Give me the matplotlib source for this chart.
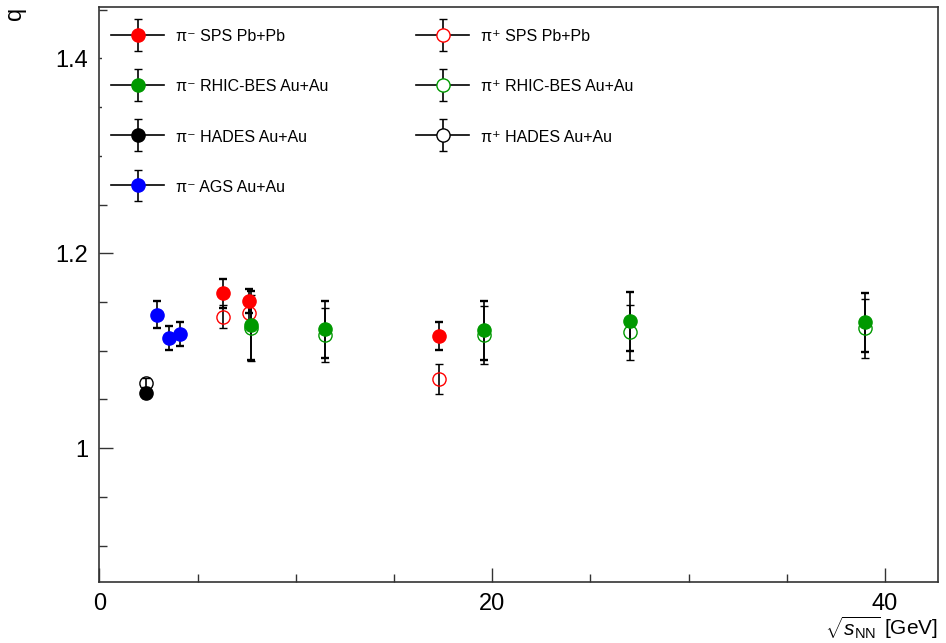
import numpy as np
import matplotlib
matplotlib.use("Agg")
import matplotlib.pyplot as plt
from matplotlib.ticker import MultipleLocator, FuncFormatter
from matplotlib.lines import Line2D
from matplotlib.container import ErrorbarContainer
from matplotlib.legend_handler import HandlerErrorbar

plt.rcParams['font.family'] = ['Liberation Sans', 'DejaVu Sans']
plt.rcParams['mathtext.fontset'] = 'custom'
plt.rcParams['mathtext.rm'] = 'Liberation Sans'
plt.rcParams['mathtext.it'] = 'Liberation Sans:italic'

# ---- data ----
sps_x = [6.3, 7.6, 17.3]
sps_neg_q = [1.159, 1.151, 1.115]
sps_neg_err = [0.015, 0.012, 0.014]
sps_pos_q = [1.135, 1.139, 1.071]
sps_pos_err = [0.012, 0.015, 0.015]

rhic_x = [7.7, 11.5, 19.6, 27.0, 39.0]
rhic_neg_q = [1.126, 1.122, 1.121, 1.130, 1.129]
rhic_neg_err = [0.035, 0.029, 0.030, 0.030, 0.030]
rhic_pos_q = [1.123, 1.116, 1.116, 1.119, 1.123]
rhic_pos_err = [0.034, 0.028, 0.030, 0.028, 0.030]

hades_x = [2.4]
hades_neg_q = [1.057]
hades_neg_err = [0.005]
hades_pos_q = [1.067]
hades_pos_err = [0.005]

ags_x = [2.95, 3.55, 4.1]
ags_neg_q = [1.137, 1.113, 1.117]
ags_neg_err = [0.014, 0.012, 0.012]

labels = [u"\u03c0\u207b SPS Pb+Pb", u"\u03c0\u207b RHIC-BES Au+Au",
          u"\u03c0\u207b HADES Au+Au", u"\u03c0\u207b AGS Au+Au",
          u"\u03c0\u207a SPS Pb+Pb", u"\u03c0\u207a RHIC-BES Au+Au",
          u"\u03c0\u207a HADES Au+Au"]

RED = '#ff0000'
GREEN = '#009900'
BLUE = '#0000ff'
BLACK = '#000000'

fig = plt.figure(figsize=(9.46, 6.43), dpi=100)
ax = fig.add_axes([0.105, 0.0953, 0.8865, 0.8943])

ms = 9.5
ebkw = dict(fmt='o', ms=ms, ecolor='black', elinewidth=1.2, capsize=2.6, capthick=1.7)

# open markers first, filled on top
ax.errorbar(sps_x, sps_pos_q, yerr=sps_pos_err, mfc='none', mec=RED, mew=1.0, **ebkw)
ax.errorbar(rhic_x, rhic_pos_q, yerr=rhic_pos_err, mfc='none', mec=GREEN, mew=1.0, **ebkw)
ax.errorbar(hades_x, hades_pos_q, yerr=hades_pos_err, mfc='none', mec=BLACK, mew=1.0, **ebkw)
ax.errorbar(sps_x, sps_neg_q, yerr=sps_neg_err, mfc=RED, mec=RED, **ebkw)
ax.errorbar(rhic_x, rhic_neg_q, yerr=rhic_neg_err, mfc=GREEN, mec=GREEN, **ebkw)
ax.errorbar(hades_x, hades_neg_q, yerr=hades_neg_err, mfc=BLACK, mec=BLACK, **ebkw)
ax.errorbar(ags_x, ags_neg_q, yerr=ags_neg_err, mfc=BLUE, mec=BLUE, **ebkw)

ax.set_xlim(0, 42.7)
ax.set_ylim(0.863, 1.453)

# legend handles: horizontal line + marker with vertical error bar
styles = [(RED, RED), (GREEN, GREEN), (BLACK, BLACK), (BLUE, BLUE),
          ('white', RED), ('white', GREEN), ('white', BLACK)]
handles = []
for fc, ec in styles:
    hl = Line2D([], [], color='black', lw=1.2)
    eb = ax.errorbar([np.nan], [np.nan], yerr=[1], mfc=fc, mec=ec, mew=1.0, **ebkw)
    handles.append((hl, eb))

leg = ax.legend(handles, labels, ncol=2, loc='upper left',
                bbox_to_anchor=(0.003, 0.979), borderaxespad=0,
                fontsize=11.5, frameon=True, fancybox=False,
                handlelength=3.3, handleheight=1.0, handletextpad=0.75,
                labelspacing=2.17, columnspacing=5.5, borderpad=0.6,
                handler_map={ErrorbarContainer: HandlerErrorbar(xerr_size=0.5, yerr_size=1.0)})
leg.get_frame().set_facecolor('white')
leg.get_frame().set_edgecolor('none')
leg.get_frame().set_alpha(1.0)

# axes style (ROOT-like)
ax.xaxis.set_major_locator(MultipleLocator(20))
ax.xaxis.set_minor_locator(MultipleLocator(5))
ax.yaxis.set_major_locator(MultipleLocator(0.2))
ax.yaxis.set_minor_locator(MultipleLocator(0.05))
ax.yaxis.set_major_formatter(FuncFormatter(lambda v, p: '%g' % round(v, 3)))
ax.xaxis.set_major_formatter(FuncFormatter(lambda v, p: '%g' % v))
ax.tick_params(which='both', direction='in', top=False, right=False,
               labelsize=17, color='#333333', width=1.0)
ax.tick_params(axis='x', which='major', length=10, pad=8)
ax.tick_params(axis='y', which='major', length=10, pad=8)
ax.tick_params(which='minor', length=6)
for s in ax.spines.values():
    s.set_linewidth(1.2)
    s.set_color('#333333')

ax.set_xlabel(r'$\sqrt{s_{\mathrm{NN}}}$ [GeV]', fontsize=15, loc='right')
ax.xaxis.set_label_coords(1.0, -0.056)
ax.set_ylabel('q', fontsize=17, loc='top')
ax.yaxis.set_label_coords(-0.088, 1.0)

fig.savefig('out.png', dpi=100)
